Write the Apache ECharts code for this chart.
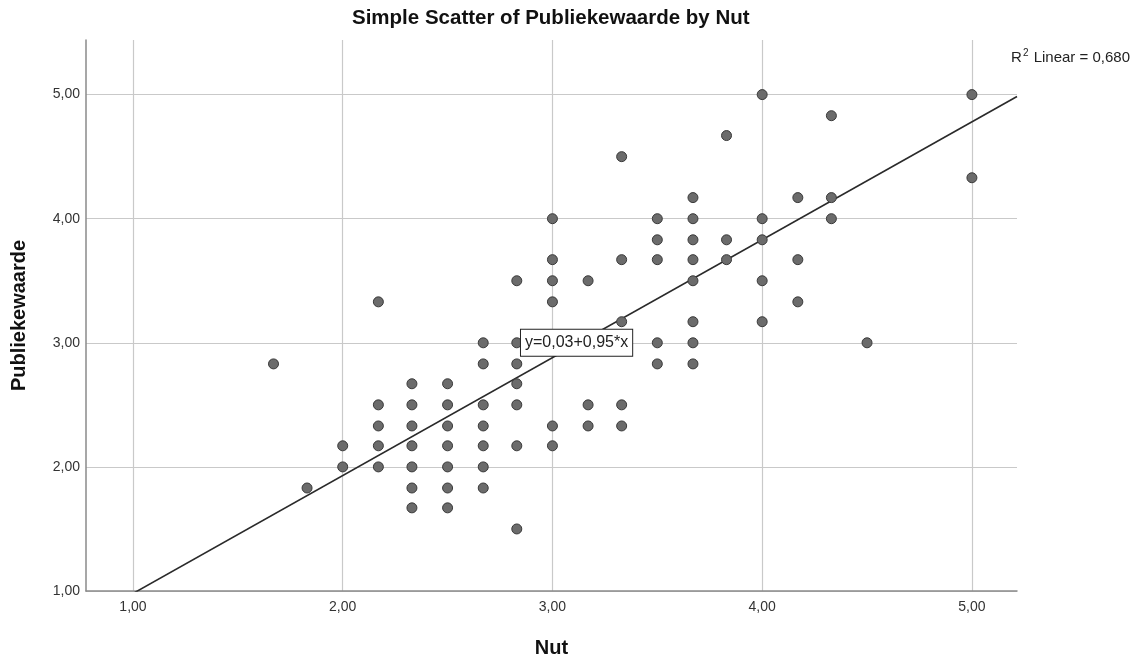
<!DOCTYPE html>
<html>
<head>
<meta charset="utf-8">
<script src="https://cdn.jsdelivr.net/npm/echarts@6/dist/echarts.min.js"></script>
<style>
html,body{margin:0;padding:0;background:#fff;}
#chart{width:1135px;height:658px;}
</style>
</head>
<body>
<div id="chart"></div>
<script>
// Data (Nut, Publiekewaarde)
var nutValues = [
  1.67, 1.83,
  2.00, 2.00,
  2.17, 2.17, 2.17, 2.17, 2.17,
  2.33, 2.33, 2.33, 2.33, 2.33, 2.33, 2.33,
  2.50, 2.50, 2.50, 2.50, 2.50, 2.50, 2.50,
  2.67, 2.67, 2.67, 2.67, 2.67, 2.67, 2.67,
  2.83, 2.83, 2.83, 2.83, 2.83, 2.83, 2.83,
  3.00, 3.00, 3.00, 3.00, 3.00, 3.00,
  3.17, 3.17, 3.17,
  3.33, 3.33, 3.33, 3.33, 3.33,
  3.50, 3.50, 3.50, 3.50, 3.50,
  3.67, 3.67, 3.67, 3.67, 3.67, 3.67, 3.67, 3.67,
  3.83, 3.83, 3.83,
  4.00, 4.00, 4.00, 4.00, 4.00,
  4.17, 4.17, 4.17,
  4.33, 4.33, 4.33,
  4.50,
  5.00, 5.00
];
var publiekewaardeValues = [
  2.83, 1.83,
  2.17, 2.00,
  3.33, 2.50, 2.33, 2.17, 2.00,
  2.67, 2.50, 2.33, 2.17, 2.00, 1.83, 1.67,
  2.67, 2.50, 2.33, 2.17, 2.00, 1.83, 1.67,
  3.00, 2.83, 2.50, 2.33, 2.17, 2.00, 1.83,
  3.50, 3.00, 2.83, 2.67, 2.50, 2.17, 1.50,
  4.00, 3.67, 3.50, 3.33, 2.33, 2.17,
  3.50, 2.50, 2.33,
  4.50, 3.67, 3.17, 2.50, 2.33,
  4.00, 3.83, 3.67, 3.00, 2.83,
  4.17, 4.00, 3.83, 3.67, 3.50, 3.17, 3.00, 2.83,
  4.67, 3.83, 3.67,
  5.00, 4.00, 3.83, 3.50, 3.17,
  4.17, 3.67, 3.33,
  4.83, 4.17, 4.00,
  3.00,
  5.00, 4.33
];
var xTicks = [1, 2, 3, 4, 5];
var yTicks = [1, 2, 3, 4, 5];
var xRange = [0.776, 5.215];
var yRange = [1.0, 5.44];
var regression = { intercept: 0.03, slope: 0.95, r2: '0,680' };
var equationAnchor = [2.85, 3.0];

var points = nutValues.map(function (x, i) { return [x, publiekewaardeValues[i]]; });
var fitLine = xRange.map(function (x) { return [x, regression.intercept + regression.slope * x]; });

function fmt(v) { return v.toFixed(2).replace('.', ','); }

var chart = echarts.init(document.getElementById('chart'), null, { renderer: 'canvas' });
chart.setOption({
  animation: false,
  backgroundColor: '#ffffff',
  textStyle: { fontFamily: 'Liberation Sans, Arial, sans-serif' },
  title: [{
    text: 'R{s|2} Linear = ' + regression.r2,
    right: 0,
    top: 43,
    textStyle: {
      fontFamily: 'Liberation Sans, Arial, sans-serif',
      fontSize: 15, fontWeight: 'normal', color: '#222',
      rich: { s: { fontSize: 10, padding: [0, 1, 9, 1], fontFamily: 'Liberation Sans, Arial, sans-serif', color: '#222' } }
    }
  }],
  graphic: [{
    type: 'text',
    left: 552 - 200,
    top: 8,
    style: {
      text: 'Simple Scatter of Publiekewaarde by Nut',
      font: 'bold 20.5px "Liberation Sans", Arial, sans-serif',
      fill: '#111',
      width: 400,
      align: 'center'
    }
  }],
  grid: { left: 86, right: 118, top: 40, bottom: 67, containLabel: false, outerBoundsMode: 'none' },
  xAxis: {
    type: 'value',
    min: xRange[0],
    max: xRange[1],
    name: 'Nut',
    nameLocation: 'middle',
    nameGap: 47,
    nameTextStyle: { fontSize: 20, fontWeight: 'bold', color: '#111', fontFamily: 'Liberation Sans, Arial, sans-serif' },
    axisLine: { show: true, onZero: false, lineStyle: { color: '#8a8a8a', width: 1.5 } },
    axisTick: { show: false, customValues: xTicks },
    axisLabel: { customValues: xTicks, formatter: fmt, fontSize: 14, color: '#333', margin: 9 },
    splitLine: { show: true, lineStyle: { color: '#c9c9c9', width: 1.2 } }
  },
  yAxis: {
    type: 'value',
    min: yRange[0],
    max: yRange[1],
    name: 'Publiekewaarde',
    nameLocation: 'middle',
    nameGap: 57,
    nameTextStyle: { fontSize: 20, fontWeight: 'bold', color: '#111', fontFamily: 'Liberation Sans, Arial, sans-serif' },
    axisLine: { show: true, onZero: false, lineStyle: { color: '#8a8a8a', width: 1.5 } },
    axisTick: { show: false, customValues: yTicks },
    axisLabel: { customValues: yTicks, formatter: fmt, fontSize: 14, color: '#333', margin: 6 },
    splitLine: { show: true, lineStyle: { color: '#c9c9c9', width: 1.2 } }
  },
  series: [{
    type: 'line',
    data: fitLine,
    clip: true,
    symbol: 'none',
    silent: true,
    z: 3,
    lineStyle: { color: '#2a2a2a', width: 1.6 },
    markPoint: {
      symbol: 'rect',
      symbolSize: 0,
      silent: true,
      data: [{ coord: equationAnchor }],
      label: {
        show: true,
        position: 'right',
        distance: 0,
        formatter: 'y=0,03+0,95*x',
        fontSize: 16,
        color: '#222',
        backgroundColor: '#ffffff',
        borderColor: '#222',
        borderWidth: 1,
        padding: [4, 4, 3, 4],
        lineHeight: 19
      }
    }
  }, {
    type: 'scatter',
    data: points,
    symbol: 'circle',
    symbolSize: 10,
    z: 4,
    itemStyle: { color: '#6b6b6b', borderColor: '#3a3a3a', borderWidth: 1, opacity: 1 }
  }]
});
</script>
</body>
</html>
